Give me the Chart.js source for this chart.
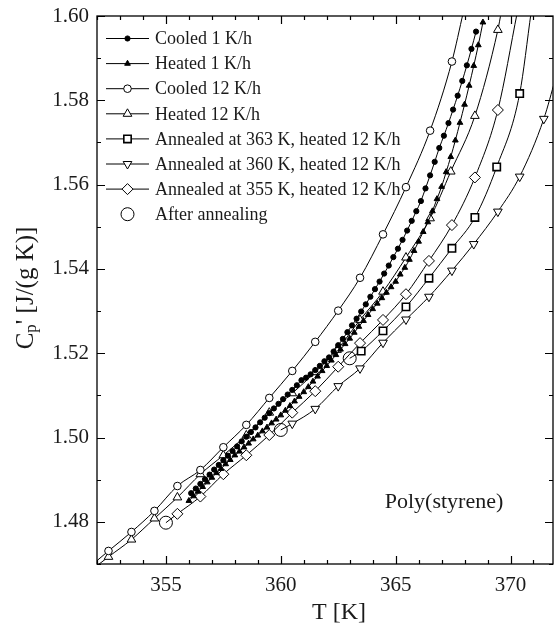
<!DOCTYPE html>
<html>
<head>
<meta charset="utf-8">
<script src="https://cdn.jsdelivr.net/npm/chart.js@4.4.0/dist/chart.umd.min.js"></script>
<style>
html, body { margin: 0; padding: 0; background: #fff; }
</style>
</head>
<body>
<canvas id="cpChart" width="554" height="630"></canvas>
<script>
// ---- data ----
const cool1T = [356.1,356.3,356.5,356.7,356.9,357.1,357.3,357.5,357.7,357.9,358.1,358.3,358.5,358.7,358.9,359.1,359.3,359.5,359.7,359.9,360.1,360.3,360.5,360.7,360.9,361.1,361.3,361.5,361.7,361.9,362.1,362.3,362.5,362.7,362.9,363.1,363.3,363.5,363.7,363.9,364.1,364.3,364.5,364.7,364.9,365.1,365.3,365.5,365.7,365.9,366.1,366.3,366.5,366.7,366.9,367.1,367.3,367.5,367.7,367.9,368.1,368.3,368.5];
const cool1Cp = [1.4868,1.4879,1.4890,1.4901,1.4912,1.4924,1.4935,1.4946,1.4957,1.4968,1.4979,1.4991,1.5002,1.5013,1.5024,1.5036,1.5047,1.5058,1.5069,1.5080,1.5091,1.5102,1.5113,1.5124,1.5136,1.5142,1.5150,1.5160,1.5170,1.5181,1.5190,1.5204,1.5219,1.5234,1.5250,1.5266,1.5282,1.5299,1.5316,1.5334,1.5352,1.5370,1.5389,1.5408,1.5428,1.5448,1.5469,1.5491,1.5514,1.5537,1.5561,1.5591,1.5622,1.5654,1.5687,1.5716,1.5746,1.5778,1.5811,1.5846,1.5883,1.5922,1.5963];

const heat1T = [356.0,356.2,356.4,356.6,356.8,357.0,357.2,357.4,357.6,357.8,358.0,358.2,358.4,358.6,358.8,359.0,359.2,359.4,359.6,359.8,360.0,360.2,360.4,360.6,360.8,361.0,361.2,361.4,361.6,361.8,362.0,362.2,362.4,362.6,362.8,363.0,363.2,363.4,363.6,363.8,364.0,364.2,364.4,364.6,364.8,365.0,365.2,365.4,365.6,365.8,366.0,366.2,366.4,366.6,366.8,367.0,367.2,367.4,367.6,367.8,368.0,368.2,368.4,368.6,368.8];
const heat1Cp = [1.4850,1.4861,1.4872,1.4883,1.4894,1.4905,1.4916,1.4926,1.4937,1.4947,1.4958,1.4967,1.4977,1.4986,1.4996,1.5005,1.5015,1.5024,1.5034,1.5043,1.5053,1.5064,1.5075,1.5086,1.5097,1.5108,1.5120,1.5133,1.5145,1.5158,1.5170,1.5183,1.5196,1.5209,1.5222,1.5235,1.5249,1.5263,1.5277,1.5291,1.5305,1.5318,1.5331,1.5344,1.5357,1.5370,1.5387,1.5403,1.5422,1.5443,1.5465,1.5488,1.5511,1.5537,1.5566,1.5595,1.5630,1.5666,1.5705,1.5747,1.5790,1.5835,1.5882,1.5931,1.5985];

const cool12T = [352.5,353.5,354.5,355.5,356.5,357.5,358.5,359.5,360.5,361.5,362.5,363.45,364.45,365.45,366.5,367.45];
const cool12Cp = [1.4731,1.4776,1.4826,1.4885,1.4923,1.4977,1.5030,1.5094,1.5158,1.5227,1.5301,1.5379,1.5482,1.5594,1.5728,1.5892];
const cool12Ends = [[352.0, 1.4708], [367.95, 1.6010]];

const heat12T = [352.5,353.5,354.5,355.5,356.5,357.5,358.5,359.5,360.5,361.5,362.45,363.45,364.45,365.45,366.5,367.4,368.45,369.45];
const heat12Cp = [1.4717,1.4758,1.4808,1.4858,1.4913,1.4958,1.5005,1.5059,1.5105,1.5155,1.5208,1.5279,1.5346,1.5427,1.5520,1.5631,1.5763,1.5967];
const heat12Ends = [[352.0, 1.4696], [369.6, 1.6010]];

const ann363T = [363.5,364.45,365.45,366.45,367.45,368.45,369.4,370.4];
const ann363Cp = [1.5205,1.5253,1.5310,1.5378,1.5449,1.5522,1.5642,1.5816];
const ann363Ends = [[363.0, 1.5188], [370.9, 1.6010]];

const ann360T = [360.5,361.5,362.5,363.45,364.45,365.45,366.45,367.45,368.4,369.45,370.4,371.45];
const ann360Cp = [1.5033,1.5068,1.5122,1.5164,1.5225,1.5280,1.5334,1.5396,1.5459,1.5536,1.5619,1.5756];
const ann360Ends = [[360.0, 1.5018], [371.95, 1.5850]];

const ann355T = [355.5,356.5,357.5,358.5,359.5,360.5,361.5,362.5,363.45,364.45,365.45,366.45,367.45,368.45,369.45];
const ann355Cp = [1.4819,1.4860,1.4913,1.4958,1.5006,1.5059,1.5110,1.5168,1.5224,1.5279,1.5340,1.5419,1.5504,1.5617,1.5777];
const ann355Ends = [[355.0, 1.4798], [370.3, 1.6010]];

const afterT = [355.0, 360.0, 363.0];
const afterCp = [1.4798, 1.5018, 1.5188];

const xTickValues = [352,353,354,355,356,357,358,359,360,361,362,363,364,365,366,367,368,369,370,371];
const xTickLabels = [355, 360, 365, 370];
const yTickValues = [1.47,1.48,1.49,1.50,1.51,1.52,1.53,1.54,1.55,1.56,1.57,1.58,1.59,1.60];
const yTickLabels = [1.48, 1.50, 1.52, 1.54, 1.56, 1.58, 1.60];

// ---- helpers ----
const SERIF = '"Liberation Serif", "Times New Roman", serif';
const INK = "#1a1a1a";

function points(T, Cp, ends) {
    const pts = T.map((t, i) => ({ x: t, y: Cp[i] }));
    if (ends) {
        pts.unshift({ x: ends[0][0], y: ends[0][1], fit: true });
        pts.push({ x: ends[1][0], y: ends[1][1], fit: true });
    }
    return pts;
}

function makeSet(label, T, Cp, ends, style) {
    return {
        label: label,
        data: points(T, Cp, ends),
        showLine: style.line !== false,
        borderColor: "#000",
        borderWidth: 1,
        cubicInterpolationMode: "monotone",
        pointStyle: style.shape,
        pointRotation: style.rot || 0,
        pointBackgroundColor: style.fill,
        pointBorderColor: "#000",
        pointBorderWidth: style.bw || 1,
        pointRadius: ctx => (ctx.raw && ctx.raw.fit) ? 0 : style.r,
        legendR: style.r
    };
}

const datasets = [
    makeSet("Cooled 1 K/h", cool1T, cool1Cp, null, { shape: "circle", r: 2.6, fill: "#000" }),
    makeSet("Heated 1 K/h", heat1T, heat1Cp, null, { shape: "triangle", r: 3.3, fill: "#000" }),
    makeSet("Cooled 12 K/h", cool12T, cool12Cp, cool12Ends, { shape: "circle", r: 3.8, fill: "#fff" }),
    makeSet("Heated 12 K/h", heat12T, heat12Cp, heat12Ends, { shape: "triangle", r: 5, fill: "#fff" }),
    makeSet("Annealed at 363 K, heated 12 K/h", ann363T, ann363Cp, ann363Ends, { shape: "rect", r: 5.2, fill: "#fff", bw: 1.6 }),
    makeSet("Annealed at 360 K, heated 12 K/h", ann360T, ann360Cp, ann360Ends, { shape: "triangle", rot: 180, r: 5, fill: "#fff" }),
    makeSet("Annealed at 355 K, heated 12 K/h", ann355T, ann355Cp, ann355Ends, { shape: "rectRot", r: 5.5, fill: "#fff" }),
    makeSet("After annealing", afterT, afterCp, null, { shape: "circle", r: 6.5, fill: "#fff", line: false })
];

// frame, inward ticks, tick labels, legend and texts
const decorations = {
    id: "decorations",
    afterDatasetsDraw(chart) {
        const ctx = chart.ctx;
        const a = chart.chartArea;
        const xs = chart.scales.x, ys = chart.scales.y;
        ctx.save();
        ctx.strokeStyle = "#000";
        ctx.lineWidth = 1.3;
        ctx.strokeRect(a.left, a.top, a.right - a.left, a.bottom - a.top);

        ctx.lineWidth = 1.2;
        ctx.beginPath();
        xTickValues.forEach(v => {
            const px = Math.round(xs.getPixelForValue(v)) + 0.5;
            const len = xTickLabels.includes(v) ? 8 : 4;
            ctx.moveTo(px, a.bottom); ctx.lineTo(px, a.bottom - len);
            ctx.moveTo(px, a.top); ctx.lineTo(px, a.top + len);
        });
        yTickValues.forEach(v => {
            const py = Math.round(ys.getPixelForValue(v)) + 0.5;
            const len = yTickLabels.some(l => Math.abs(l - v) < 1e-6) ? 8 : 4;
            ctx.moveTo(a.left, py); ctx.lineTo(a.left + len, py);
            ctx.moveTo(a.right, py); ctx.lineTo(a.right - len, py);
        });
        ctx.stroke();

        // tick labels
        ctx.fillStyle = INK;
        ctx.font = "21px " + SERIF;
        ctx.textBaseline = "middle";
        ctx.textAlign = "center";
        xTickLabels.forEach(v => ctx.fillText(String(v), xs.getPixelForValue(v), a.bottom + 21));
        ctx.textAlign = "right";
        yTickLabels.forEach(v => ctx.fillText(v.toFixed(2), a.left - 8, ys.getPixelForValue(v)));

        // legend
        ctx.font = "18px " + SERIF;
        ctx.textAlign = "left";
        chart.data.datasets.forEach((ds, i) => {
            const y = 38.5 + i * 25.1;
            ctx.strokeStyle = "#000";
            ctx.lineWidth = 1;
            if (ds.showLine) {
                ctx.beginPath();
                ctx.moveTo(106, y); ctx.lineTo(149, y);
                ctx.stroke();
            }
            ctx.fillStyle = ds.pointBackgroundColor;
            ctx.lineWidth = ds.pointBorderWidth;
            Chart.helpers.drawPoint(ctx, {
                pointStyle: ds.pointStyle,
                rotation: ds.pointRotation,
                radius: ds.legendR,
                borderWidth: ds.pointBorderWidth
            }, 127.5, y);
            ctx.fillStyle = INK;
            ctx.fillText(ds.label, 155, y + 1);
        });

        // sample name
        ctx.font = "22px " + SERIF;
        ctx.textAlign = "center";
        ctx.fillText("Poly(styrene)", 444, 502);

        // x title
        ctx.font = "24px " + SERIF;
        ctx.fillText("T [K]", 339, 613);

        // y title with subscript
        ctx.translate(26, 288);
        ctx.rotate(-Math.PI / 2);
        const big = "25px " + SERIF, small = "17px " + SERIF;
        ctx.font = big; const wC = ctx.measureText("C").width;
        ctx.font = small; const wp = ctx.measureText("p").width;
        const rest = "' [J/(g K)]";
        ctx.font = big; const wr = ctx.measureText(rest).width;
        let tx = -(wC + wp + wr) / 2;
        ctx.textAlign = "left";
        ctx.fillText("C", tx, 0); tx += wC;
        ctx.font = small; ctx.fillText("p", tx, 6); tx += wp;
        ctx.font = big; ctx.fillText(rest, tx, 0);
        ctx.restore();
    }
};

new Chart(document.getElementById("cpChart").getContext("2d"), {
    type: "scatter",
    data: { datasets: datasets },
    options: {
        responsive: false,
        animation: false,
        events: [],
        layout: { autoPadding: false, padding: { top: 16, right: 1, left: 0, bottom: 0 } },
        plugins: { legend: { display: false }, tooltip: { enabled: false } },
        scales: {
            x: {
                type: "linear",
                min: 352,
                max: 371.85,
                afterBuildTicks: axis => { axis.ticks = xTickValues.map(v => ({ value: v })); },
                afterFit: axis => { axis.height = 66; axis.paddingLeft = 0; axis.paddingRight = 0; },
                grid: { display: false, drawTicks: false },
                border: { display: false },
                ticks: { display: false }
            },
            y: {
                type: "linear",
                min: 1.47,
                max: 1.60,
                afterBuildTicks: axis => { axis.ticks = yTickValues.map(v => ({ value: v })); },
                afterFit: axis => { axis.width = 97; axis.paddingTop = 0; axis.paddingBottom = 0; },
                grid: { display: false, drawTicks: false },
                border: { display: false },
                ticks: { display: false }
            }
        }
    },
    plugins: [decorations]
});
</script>
</body>
</html>
